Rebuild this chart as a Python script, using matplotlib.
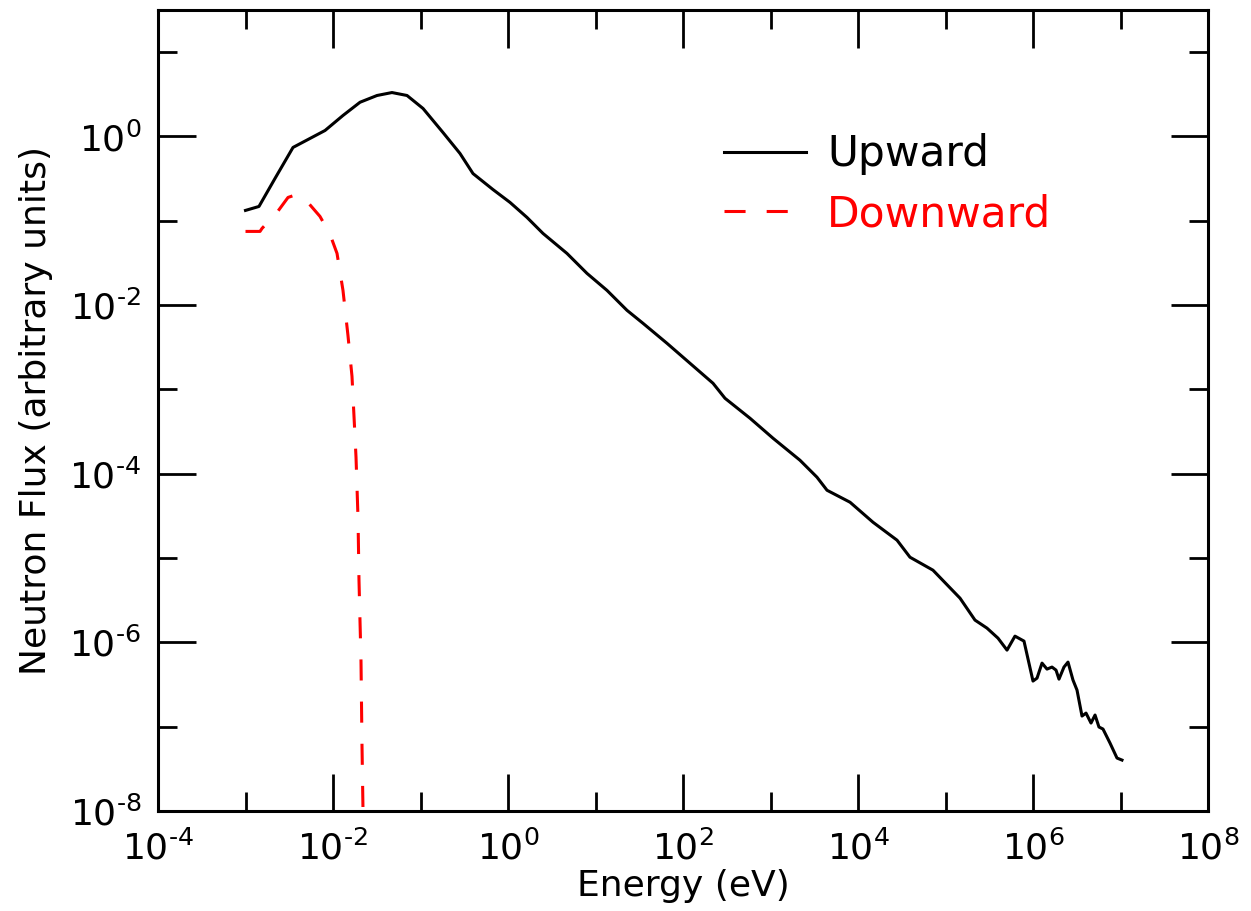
import numpy as np
import matplotlib
matplotlib.use('Agg')
import matplotlib.pyplot as plt
from matplotlib.ticker import FixedLocator, NullFormatter, FuncFormatter

# log10 of energy (eV) and flux
up_log_energy = [-3.00, -2.846, -2.663, -2.457, -2.091, -1.886, -1.691, -1.497, -1.326, -1.154,
                 -0.971, -0.743, -0.549, -0.400, -0.171, 0.023, 0.217, 0.400, 0.674, 0.903,
                 1.131, 1.360, 1.543, 1.817, 2.080, 2.343, 2.480, 2.766, 3.029, 3.337,
                 3.531, 3.646, 3.909, 4.171, 4.446, 4.594, 4.857, 5.166, 5.337, 5.474,
                 5.600, 5.703, 5.794, 5.897, 6.000, 6.046, 6.103, 6.160, 6.217, 6.263,
                 6.297, 6.354, 6.400, 6.457, 6.503, 6.560, 6.606, 6.663, 6.709, 6.754,
                 6.800, 6.880, 6.960, 7.017]
up_log_flux = [-0.877, -0.830, -0.498, -0.130, 0.071, 0.249, 0.406, 0.486, 0.521, 0.486,
               0.332, 0.047, -0.201, -0.440, -0.630, -0.782, -0.960, -1.150, -1.387, -1.624,
               -1.825, -2.062, -2.216, -2.453, -2.690, -2.927, -3.105, -3.342, -3.579, -3.840,
               -4.041, -4.196, -4.338, -4.575, -4.788, -4.990, -5.144, -5.476, -5.736, -5.831,
               -5.950, -6.092, -5.926, -5.985, -6.459, -6.424, -6.246, -6.317, -6.293, -6.329,
               -6.436, -6.293, -6.234, -6.447, -6.566, -6.874, -6.839, -6.957, -6.862, -7.004,
               -7.028, -7.194, -7.372, -7.396]

down_log_energy = [-3.00, -2.834, -2.811, -2.640, -2.514, -2.411, -2.297, -2.149, -2.034, -1.954,
                   -1.886, -1.829, -1.783, -1.760, -1.737, -1.714, -1.703, -1.680, -1.669, -1.657,
                   -1.646]
down_log_flux = [-1.126, -1.126, -1.090, -0.901, -0.723, -0.687, -0.770, -0.948, -1.161, -1.387,
                 -1.825, -2.359, -2.844, -3.319, -3.804, -4.527, -5.262, -6.222, -7.194, -8.000,
                 -9.000]

x_major_exp = [-4, -2, 0, 2, 4, 6, 8]
x_minor_exp = [-3, -1, 1, 3, 5, 7]
y_major_exp = [-8, -6, -4, -2, 0]
y_minor_exp = [-7, -5, -3, -1, 1]

series_labels = ['Upward', 'Downward']
x_label = 'Energy (eV)'
y_label = 'Neutron Flux (arbitrary units)'

eu = 10.0 ** np.array(up_log_energy)
fu = 10.0 ** np.array(up_log_flux)
ed = 10.0 ** np.array(down_log_energy)
fd = 10.0 ** np.array(down_log_flux)

plt.rcParams['font.family'] = ['DejaVu Sans']
plt.rcParams['mathtext.default'] = 'regular'


def pow_label(v, p):
    e = int(round(np.log10(v)))
    if e < 0:
        return r'$10^{\text{-}%d}$' % (-e)
    return r'$10^{%d}$' % e


fig = plt.figure(figsize=(12.51, 9.11), dpi=100)
ax = fig.add_axes([158 / 1251, 1 - 811 / 911, 1050 / 1251, 801 / 911])

lw = 2.2
ax.plot(eu, fu, color='black', lw=lw, label=series_labels[0])
ax.plot(ed, fd, color='red', lw=lw, dashes=(6.9, 6.9), label=series_labels[1])

ax.set_xscale('log')
ax.set_yscale('log')
ax.set_xlim(1e-4, 1e8)
ax.set_ylim(1e-8, 10 ** 1.5)

fmt = FuncFormatter(pow_label)
ax.xaxis.set_major_locator(FixedLocator([10.0 ** e for e in x_major_exp]))
ax.xaxis.set_minor_locator(FixedLocator([10.0 ** e for e in x_minor_exp]))
ax.yaxis.set_major_locator(FixedLocator([10.0 ** e for e in y_major_exp]))
ax.yaxis.set_minor_locator(FixedLocator([10.0 ** e for e in y_minor_exp]))
ax.xaxis.set_major_formatter(fmt)
ax.yaxis.set_major_formatter(fmt)
ax.xaxis.set_minor_formatter(NullFormatter())
ax.yaxis.set_minor_formatter(NullFormatter())

for s in ax.spines.values():
    s.set_linewidth(2.2)

ax.tick_params(axis='x', which='major', direction='in', top=True, bottom=True,
               length=27, width=2.0, labelsize=26, pad=14)
ax.tick_params(axis='x', which='minor', direction='in', top=True, bottom=True,
               length=14, width=2.0)
ax.tick_params(axis='y', which='major', direction='in', left=True, right=True,
               length=27, width=2.0, labelsize=26, pad=12)
ax.tick_params(axis='y', which='minor', direction='in', left=True, right=True,
               length=14, width=2.0)

ax.set_xlabel(x_label, fontsize=26, labelpad=2)
ax.set_ylabel(y_label, fontsize=26, labelpad=12)

leg = ax.legend(loc='upper left', bbox_to_anchor=(0.539, 0.846), frameon=False,
                fontsize=30.5, handlelength=1.94, handletextpad=0.5, labelspacing=0.42,
                borderpad=0, borderaxespad=0, labelcolor='linecolor')

fig.savefig('out.png', dpi=100)
